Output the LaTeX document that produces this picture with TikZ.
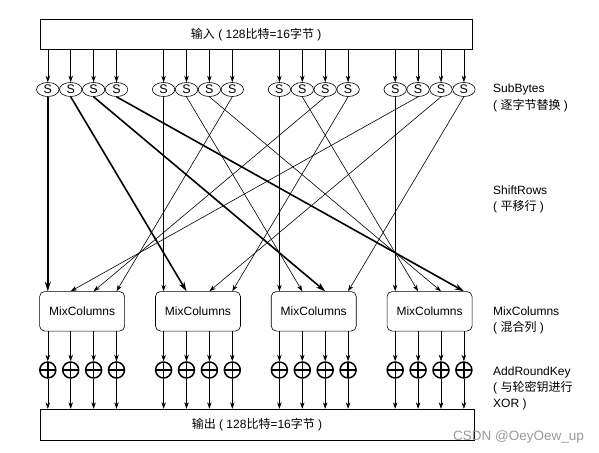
\documentclass[tikz,border=0pt]{standalone}
\usepackage{fontspec}
\setmainfont{Liberation Sans}
\newfontfamily\cjkfont{Noto Sans CJK SC}
\newcommand\zhtxt[1]{{\cjkfont #1}}
\usetikzlibrary{arrows.meta,shapes.geometric}
\tikzset{
  sbox/.style={draw, ellipse, minimum width=22.5pt, minimum height=14pt, inner sep=0pt, line width=0.6pt, font=\fontsize{12.5}{12.5}\selectfont},
  xorc/.style={circle, draw, line width=1.5pt, minimum size=16pt, inner sep=0pt,
    path picture={\draw[line width=1.4pt] (path picture bounding box.north) -- (path picture bounding box.south) (path picture bounding box.west) -- (path picture bounding box.east);}},
  mcbox/.style={draw, rounded corners=5pt, minimum width=85pt, minimum height=39.5pt, inner sep=0pt, line width=0.6pt, font=\fontsize{12}{12}\selectfont},
  iobox/.style={draw, minimum height=30.7pt, inner sep=0pt, line width=1pt, font=\fontsize{12}{12}\selectfont},
  thinarrow/.style={-{Stealth[length=6.5pt,width=4.5pt]}, line width=0.6pt},
  boldarrow/.style={-{Stealth[length=9.5pt,width=6pt]}, line width=1.6pt},
  lab/.style={anchor=base west, inner sep=0pt, font=\fontsize{12}{12}\selectfont},
}
\begin{document}
\begin{tikzpicture}[x=1pt,y=-1pt]
\useasboundingbox (0,0) rectangle (599,452);
\node[iobox, minimum width=432.3pt] (in) at (256.15,34.65) {\zhtxt{输入} ( 128\zhtxt{比特}=16\zhtxt{字节} )};
\node[iobox, minimum width=434pt] (out) at (257,424.65) {\zhtxt{输出} ( 128\zhtxt{比特}=16\zhtxt{字节} )};
\foreach \c in {0,...,3} {
  \foreach \r in {0,...,3} {
    \pgfmathsetmacro\xx{47.8+115.8*\c+22.9*\r}
    \node[sbox] (s-\c-\r) at (\xx,89.5) {S};
    \node[xorc] (x-\c-\r) at (\xx,370) {};
  }
  \pgfmathsetmacro\mx{47.8+115.8*\c+34.35}
  \node[mcbox] (mc-\c) at (\mx,311.3) {MixColumns};
}
\foreach \c in {0,...,3} {
  \foreach \r in {0,...,3} {
    \draw[thinarrow] (s-\c-\r |- in.south) -- (s-\c-\r.north);
    \draw[thinarrow] (s-\c-\r |- mc-\c.south) -- (x-\c-\r.north);
    \draw[thinarrow] (x-\c-\r.south) -- (x-\c-\r |- out.north);
  }
}
\foreach \r in {0,...,3} {
  \draw[boldarrow] (s-0-\r.south) -- (s-\r-\r |- mc-\r.north);
}
\foreach \c in {1,...,3} {
  \foreach \r in {0,...,3} {
    \pgfmathtruncatemacro\d{mod(\c+\r,4)}
    \draw[thinarrow] (s-\c-\r.south) -- (s-\d-\r |- mc-\d.north);
  }
}
\node[lab] (l1a) at (493,92.7) {SubBytes};
\node[lab] (l1b) at (493,109.5) {( \zhtxt{逐字节替换} )};
\node[lab] (l2a) at (493,194) {ShiftRows};
\node[lab] (l2b) at (493,210.5) {( \zhtxt{平移行} )};
\node[lab] (l3a) at (493,315) {MixColumns};
\node[lab] (l3b) at (493,331) {( \zhtxt{混合列} )};
\node[lab] (l4a) at (493,375) {AddRoundKey};
\node[lab] (l4b) at (493,391) {( \zhtxt{与轮密钥进行}};
\node[lab] (l4c) at (493,407) {XOR )};
\node[anchor=base west, inner sep=0pt, text=black!40, font=\fontsize{13.5}{13.5}\selectfont] (wm) at (453,440) {CSDN @OeyOew\_up};
\end{tikzpicture}
\end{document}
